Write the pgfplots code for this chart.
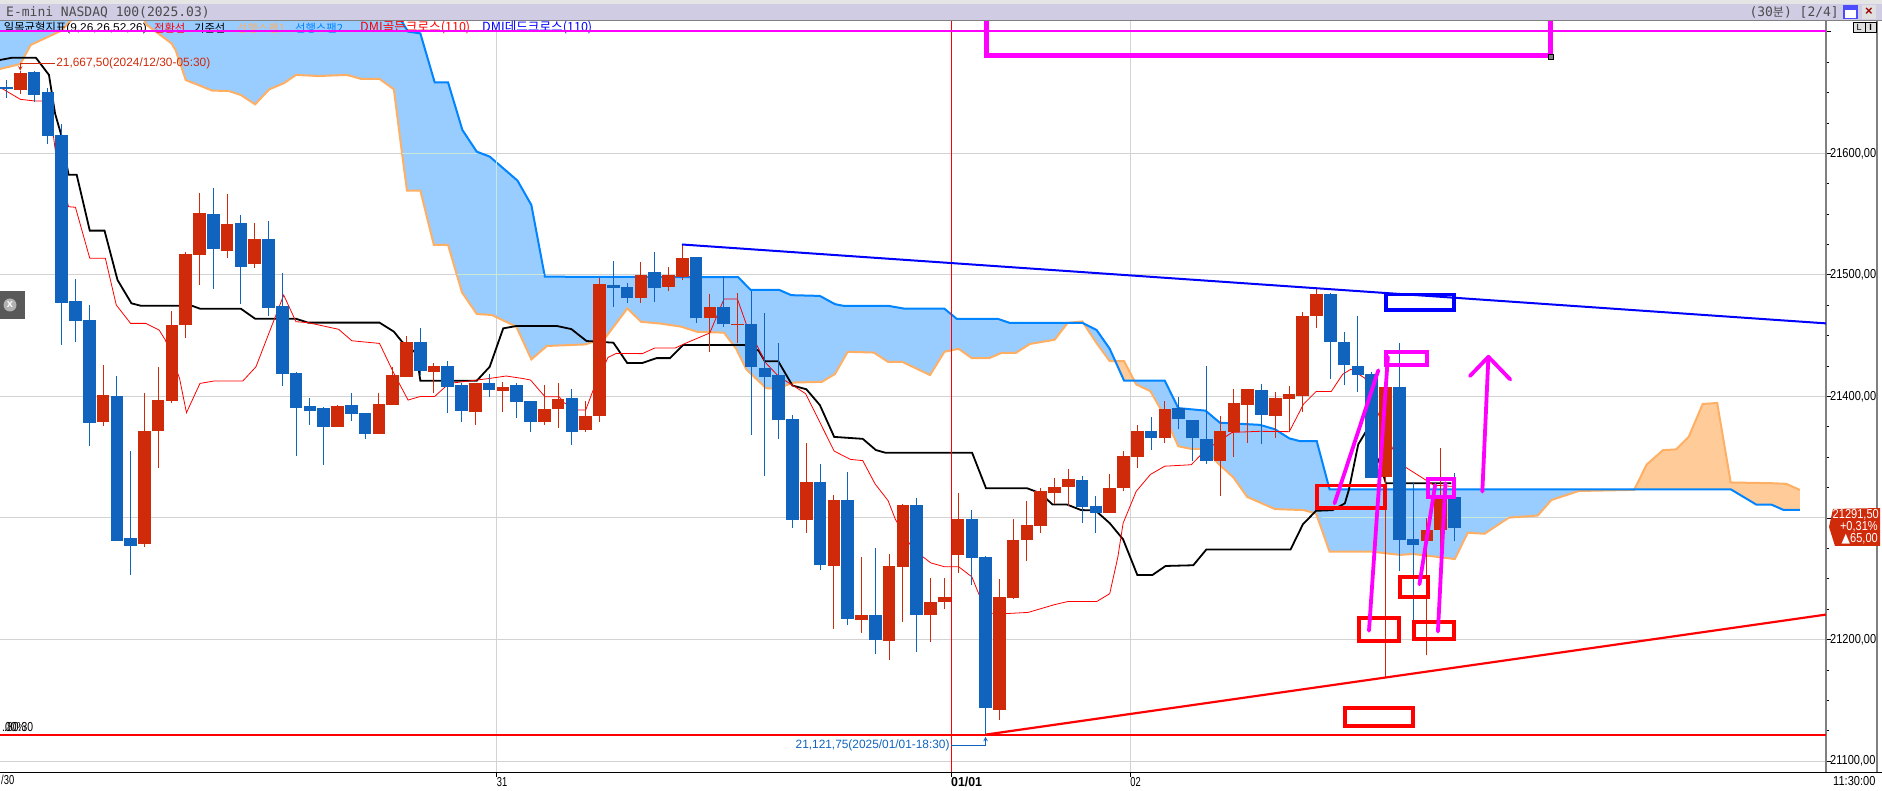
\documentclass[border=0pt]{standalone}
\usepackage{fontspec}
\usepackage{graphicx}
\usepackage{pgfplots}
\usepackage{pgfplotstable}
\pgfplotsset{compat=1.18}
\usepgfplotslibrary{fillbetween}
\setmainfont{Liberation Sans}
\newfontfamily\kofont{Noto Sans CJK KR}
\newfontfamily\symfont{DejaVu Sans}
\newfontfamily\titlefont{DejaVu Sans Mono}
\newcommand{\fs}[1]{\fontsize{#1}{#1}\selectfont}
\newcommand{\tn}[1]{\scalebox{.85}[1]{\fs{13}#1}}

\definecolor{candlered}{RGB}{207,42,10}
\definecolor{candleblue}{RGB}{16,100,190}
\definecolor{cloudblue}{RGB}{153,204,255}
\definecolor{cloudorange}{RGB}{255,204,153}
\definecolor{spanone}{RGB}{255,175,100}
\definecolor{spantwo}{RGB}{0,132,255}
\definecolor{gridgray}{RGB}{211,211,211}
\definecolor{gridcloud}{RGB}{200,232,216}
\definecolor{markup}{RGB}{255,0,255}
\definecolor{barlav}{RGB}{207,204,228}

% i = bar number, prices
\pgfplotstableread{
i hi lo top bot
1 21667.5 21648.8 21666.1 21652.4
7 21425.8 21375.9 21401.1 21379.2
10 21402.5 21276 21371.5 21278.5
11 21424.4 21341.3 21397 21371.5
12 21470.3 21394.8 21458.7 21396.5
13 21519 21448.3 21517.2 21458.7
14 21567 21491.6 21550.9 21516.3
16 21566.5 21514.1 21541.8 21519.9
18 21542.7 21505.9 21529.5 21508.9
24 21393 21375 21392.1 21375
27 21403 21369.3 21393.7 21369.3
28 21424.4 21393.2 21417.6 21393.2
29 21449.7 21416 21444.7 21416.2
31 21427.2 21403 21425 21420
34 21410.7 21376.7 21410.7 21387.4
36 21412 21387.4 21408 21404.7
39 21409.4 21376.7 21389.6 21379.2
40 21410.7 21373.7 21397.8 21389.9
42 21396.2 21371 21383.9 21372.3
43 21497.7 21379.2 21492.5 21384.1
46 21510.2 21476.9 21500.3 21480.9
48 21506.2 21486.4 21499.7 21489.8
49 21525 21495.7 21513.6 21498.5
51 21484 21436.7 21473.5 21464.2
53 21485.5 21443.8 21459.9 21459.3
58 21362 21288 21330 21298.2
60 21318.9 21208.7 21315.1 21260.5
62 21267.9 21205.3 21219.8 21216.1
64 21270.1 21183.4 21260.2 21198.8
65 21311.5 21214.2 21310.8 21259.6
67 21250.7 21198.2 21230.6 21220.1
68 21251 21224.7 21234.6 21230.6
69 21320.4 21254.7 21299.4 21269.5
72 21249.4 21133.7 21234.6 21142.3
73 21299.4 21233.4 21281.5 21234
74 21314.2 21264.2 21294.5 21282.1
75 21325 21288 21322.6 21293.2
76 21332.7 21311.1 21325.3 21320.4
77 21340.5 21309.6 21332.4 21325.3
80 21336.4 21304 21325 21304.3
81 21355 21321.9 21351.3 21325
82 21376.6 21341.4 21371.6 21350.3
84 21396.6 21362 21389.8 21365.4
88 21383.7 21318.2 21371.6 21346.6
89 21405.9 21350.3 21394.8 21370.4
90 21406.2 21361.9 21405.7 21393
92 21404 21366 21398.5 21383.8
93 21408.2 21371 21401.6 21398
94 21469.5 21386.9 21466.4 21400.2
95 21489.5 21456.2 21484.5 21466.4
100 21408 21168.4 21407.4 21333.6
103 21300 21187.2 21289.8 21280.7
104 21357.5 21273.2 21316.2 21290.4
}\upcandles

\pgfplotstableread{
i hi lo top bot
0 21660.3 21645.8 21654.6 21653
2 21667.4 21642.5 21666.7 21648.3
3 21654 21607.7 21650.5 21614.5
4 21624 21442.6 21615.1 21477.1
5 21496.3 21445 21478.5 21462.3
6 21475.2 21359.4 21462.8 21378.4
8 21416.8 21281 21400.3 21281.3
9 21355 21253.3 21283.5 21277.2
15 21571.2 21488.4 21550.1 21521.3
17 21549.3 21476 21542.7 21506.7
19 21544.3 21466.4 21529.5 21473
20 21501.3 21408.8 21474.4 21418.7
21 21420 21351.2 21419.2 21390.7
22 21398.4 21376.7 21392.1 21388.2
23 21391 21343.5 21390.4 21375
25 21403 21379.7 21392.9 21385.8
26 21386.6 21365.2 21386.3 21369.3
30 21456 21418 21444.7 21421.2
32 21429.1 21386 21425 21408
33 21411 21379.2 21409.4 21388.2
35 21418.4 21399.8 21410.7 21405.2
37 21411 21382.5 21409.4 21395.6
38 21396.5 21370.7 21396.2 21379.2
41 21406 21360.3 21398.7 21371
44 21511.4 21473.8 21491.7 21489.5
45 21493 21477.1 21489.8 21480.9
47 21519.1 21477.8 21502.2 21488.9
50 21514.8 21460.5 21514.5 21464.2
52 21499.4 21457.1 21473.5 21459.3
54 21487 21368.2 21459.3 21424.4
55 21468.5 21334.3 21423.5 21416
56 21443.8 21365.1 21417.6 21380.3
57 21384.6 21291.7 21381.5 21298.2
59 21344.5 21257.1 21330 21261.1
61 21338 21211.8 21315.1 21217
63 21275.6 21188.3 21219.8 21199.4
66 21316.7 21189.9 21310.8 21220.1
70 21306.5 21244.8 21299.4 21267
71 21268.5 21121.75 21268.2 21143.3
78 21334.3 21295.7 21331.5 21308.7
79 21318.2 21288 21310.2 21304.3
83 21383 21356.2 21371.6 21365.4
85 21399.7 21372.9 21390.4 21381.5
86 21381 21346.6 21380.6 21365.8
87 21425 21344.2 21365.1 21347.2
91 21410.4 21360.5 21404.9 21384.6
96 21485 21414.6 21484.5 21445.1
97 21452.6 21409 21445.1 21425.7
98 21466.4 21404 21425.1 21417.4
99 21420.1 21332.5 21418.2 21332.8
101 21444.3 21256 21407.4 21282
102 21330 21216.3 21282.9 21277.9
105 21337 21280.7 21317.3 21291.5
}\downcandles

\begin{document}
\begin{tikzpicture}[x=1pt,y=1pt]

\begin{axis}[
    at={(0pt,18pt)}, anchor=south west,
    scale only axis,
    width=1826pt, height=752pt,
    xmin=-0.471, xmax=131.94,
    ymin=21091, ymax=21709.7,
    axis y line*=right,
    axis x line*=bottom,
    axis line style={-},
    y axis line style={draw=gray, line width=1.5pt},
    x axis line style={draw=black, line width=1pt},
    tick align=outside,
    major tick length=5pt,
    minor tick length=3pt,
    tick style={black, line width=.8pt},
    grid=major,
    major grid style={gridgray, line width=1pt},
    xtick={35.55,68.49,81.49},
    xticklabels={\scalebox{.72}[1]{\fs{13}31},\scalebox{.95}[1]{\fs{13}\bfseries 01/01},\scalebox{.72}[1]{\fs{13}02}},
    x tick label style={anchor=north west, inner xsep=0pt, inner ysep=1pt, yshift=1pt},
    ytick={21100,21200,21300,21400,21500,21600,21700},
    yticklabels={\tn{21100,00},\tn{21200,00},,\tn{21400,00},\tn{21500,00},\tn{21600,00},},
    minor y tick num=3,
    y tick label style={anchor=west, inner xsep=0pt, xshift=-1pt},
]

% where the orange span runs above the blue one
\addplot[fill=cloudorange, draw=none] coordinates {(80.4,21429)(81.04,21429)(81.78,21413)(81.04,21413)} -- cycle;
\addplot[fill=cloudorange, draw=none] coordinates {(118.03,21323.1)(118.93,21343.9)(120.12,21355.8)(121.07,21356.4)(121.99,21366.9)(123,21393.8)(124.05,21394.6)(125.03,21329.2)(128,21328.6)(129.05,21328.1)(130.04,21323.1)(130.04,21306.7)(128.84,21306.7)(128,21310.9)(126.9,21310.9)(125.03,21323.6)(118.03,21323.6)} -- cycle;

% cloud
\addplot[name path=spanA, spanone, line width=2pt] table {
i p
-0.47 21669.4
1.01 21673.5
1.75 21689.1
2.78 21694.6
3.97 21700.9
4.71 21709.7
5.5 21745
9 21745
10.04 21708.3
10.18 21705.6
11.96 21690.5
12.26 21685
13 21660.3
14.92 21651.6
16.1 21651.3
16.99 21648
18.03 21640.3
19.06 21652.7
20.1 21657.6
20.99 21664.5
22.61 21663.6
24.69 21664.5
25.72 21661.2
27.05 21661.2
28.09 21652.7
28.68 21600
29.04 21569.3
30.01 21569.3
30.99 21524.6
32.02 21524.6
33.03 21485.6
34.1 21467.8
35.19 21467
36.97 21457.4
38.06 21430.5
39.19 21441.5
42 21442.8
43.48 21449.1
45.02 21472.4
46.02 21461.4
47.44 21459.9
48.92 21457.4
50.1 21453.1
52.03 21452.5
52.91 21439.2
53.65 21422.2
55.08 21406.8
55.88 21406.2
57.06 21411.4
59.13 21412
60.08 21418.5
61 21436.7
62.89 21436.1
63.93 21428.4
64.96 21428.4
66.97 21417.6
68.01 21436.7
69.04 21439.2
70 21431.5
71.26 21431.5
72.15 21435.8
73.19 21435.8
74.22 21443.2
76 21446.6
76.95 21460.5
78.01 21461.7
79.05 21443.8
80 21429
81.04 21429
81.92 21409.9
82.95 21404.3
83.99 21383.7
84.97 21359
85.91 21356.8
86.95 21356.8
87.84 21345.1
88.96 21333.4
89.97 21317.3
91.98 21307.3
94.06 21306.5
94.96 21303.7
95.94 21272.3
98.98 21272.3
101.07 21269.6
101.96 21270.4
104.04 21267.6
105.02 21266.2
105.97 21287.9
107.17 21287
108.95 21300.3
111.04 21302
112.03 21314.8
114.02 21322.2
118.03 21323.1
118.93 21343.9
120.12 21355.8
121.07 21356.4
121.99 21366.9
123 21393.8
124.05 21394.6
125.03 21329.2
128 21328.6
129.05 21328.1
130.04 21323.1
};
\addplot[name path=spanB, spantwo, line width=2pt] table {
i p
-0.47 21760
28.09 21730
28.68 21708.3
29.12 21700.1
30.01 21698.7
31.05 21658.4
32.02 21658.4
33.06 21619.2
34.1 21601.4
35.04 21597.3
37.06 21577.5
38.06 21557.5
39.04 21498.5
53.06 21498.1
53.95 21487.7
56.02 21487.7
56.91 21483.3
58.98 21482.7
60.08 21475.9
60.76 21474.4
64.01 21474.4
65.11 21472.2
68.01 21472.2
68.9 21463.9
71.86 21463.9
72.75 21460.5
78.01 21460.5
79.05 21454.6
80 21439.2
81.04 21413
83.99 21413
84.97 21390.4
86.95 21388.3
87.98 21378.4
90.89 21376.6
91.98 21373
93.02 21365.5
93.77 21363.3
95.01 21363.3
95.94 21323.6
125.03 21323.6
126.9 21310.9
128 21310.9
128.84 21306.7
130.04 21306.7
};
\addplot[cloudblue] fill between[of=spanA and spanB];

% grid shows faintly through the cloud
\addplot[gridcloud, line width=1pt] coordinates {(28.68,21600)(34.1,21600)};
\addplot[gridcloud, line width=1pt] coordinates {(32.7,21500)(39,21500)};
\addplot[gridcloud, line width=1pt] coordinates {(95.4,21300)(108.9,21300)};
\addplot[gridcloud, line width=1pt] coordinates {(35.55,21597)(35.55,21467)};

% base line
\addplot[black, line width=1.8pt] table {
i p
-0.47 21676.8
0.42 21678.7
2.13 21678.7
3.08 21664.5
3.52 21632.9
3.97 21615.1
4.5 21582.4
5.09 21582.4
6.04 21536.4
7.11 21536.4
8.05 21495.8
9.06 21476.6
9.74 21474.6
13.44 21474.6
14.03 21472.2
16.99 21472.2
18.03 21463.9
20.99 21463.9
21.87 21460.7
27.05 21460.7
28.09 21453.3
28.68 21445
29.72 21435.4
30.01 21412.9
34.1 21412.9
35.04 21424.4
36.02 21456
36.97 21457.9
39.93 21457.9
40.96 21455.4
42.06 21445.6
44.01 21444.2
45.01 21427.5
46.1 21427.5
47.14 21431.5
48.12 21431.5
49.07 21442.3
53.51 21442.3
54.54 21437.7
54.99 21429
55.96 21429
56.99 21409
58 21405.9
58.98 21392.9
60.02 21366.7
62.09 21365.1
63.04 21355.9
63.72 21353.7
70.02 21353.7
71.03 21324.4
74.02 21324.4
74.96 21320.4
75.85 21311.1
76.89 21311.1
77.92 21306.5
78.96 21306.2
80 21295.7
80.97 21282.4
82 21253.1
83.1 21253.1
84.05 21260.5
86.06 21261.1
87.01 21274.1
93.11 21274
94.01 21294.8
94.96 21305.9
96.15 21306.4
97.05 21312
97.34 21323.1
98.02 21360.5
98.53 21370.2
99.57 21345.3
100.02 21328.6
104.78 21328.6
};

% conversion line
\addplot[red, line width=.8pt] table {
i p
-0.47 21654.3
1.01 21644.4
2.04 21643.1
3.08 21643.1
3.58 21598.6
4.5 21556.1
5 21555.6
6.04 21513.6
7.17 21513.6
7.96 21475.2
9 21460.1
10.09 21460.1
11.07 21454.6
11.52 21446.4
12.55 21414.8
13.05 21386.6
14.03 21410.7
15.07 21412.7
17.14 21412.7
18.09 21424.4
20.1 21483.4
20.99 21461.5
21.87 21460.7
24.09 21455.2
25.04 21445.8
27.05 21443.6
28.09 21419
29.12 21397
30.01 21400
31.05 21400
32.09 21410.7
35.04 21414.8
36.23 21416.8
37.41 21414.8
38 21413.5
39.04 21399.8
40.07 21399.8
40.43 21394.8
41.46 21388.8
42 21388.8
42.59 21406.6
43.62 21432.1
44.22 21435.4
46.11 21435.2
47 21439.8
48.49 21439.8
49.07 21442.9
51 21452.2
52.03 21480.2
53 21480.2
53.65 21459.3
54.54 21439.2
54.99 21428.4
56.02 21416.1
56.91 21409.9
57.95 21402.2
60.02 21355
61.2 21348.2
62.09 21347.2
62.98 21328.1
63.93 21314.2
64.46 21298.8
65.49 21278.7
66.47 21267.9
67.03 21263
68.01 21259.9
69.04 21259.9
70 21251.6
70.52 21237.1
71.41 21221.6
72.45 21221.3
74.08 21222.3
76 21228.7
76.95 21231.2
79.05 21231.2
80 21237.7
80.59 21267.9
80.97 21295.7
81.92 21321.9
82.95 21335.8
83.99 21342.6
85.91 21343.8
86.95 21355.9
87.98 21363.6
88.87 21370.4
90.89 21371.3
93.02 21371
94.06 21393.8
94.96 21404
96.06 21404
96.89 21418.2
97.49 21422.4
98.5 21415
100 21370
101 21345
103.5 21327
104.8 21326
};

% wicks and bodies
\addplot[draw=none, mark=none, forget plot, error bars/.cd, y dir=plus, y explicit, error mark=none,
    error bar style={draw=candlered, line width=1pt}]
    table[x=i, y=lo, y error plus expr=\thisrow{hi}-\thisrow{lo}] {\upcandles};
\addplot[draw=none, mark=none, forget plot, error bars/.cd, y dir=plus, y explicit, error mark=none,
    error bar style={draw=candlered, line width=12.6pt}]
    table[x=i, y=bot, y error plus expr=\thisrow{top}-\thisrow{bot}] {\upcandles};
\addplot[draw=none, mark=none, forget plot, error bars/.cd, y dir=plus, y explicit, error mark=none,
    error bar style={draw=candleblue, line width=1pt}]
    table[x=i, y=lo, y error plus expr=\thisrow{hi}-\thisrow{lo}] {\downcandles};
\addplot[draw=none, mark=none, forget plot, error bars/.cd, y dir=plus, y explicit, error mark=none,
    error bar style={draw=candleblue, line width=12.6pt}]
    table[x=i, y=bot, y error plus expr=\thisrow{top}-\thisrow{bot}] {\downcandles};

% session marker, levels and trend lines
\addplot[red, line width=.9pt] coordinates {(68.49,21091)(68.49,21709.7)};
\addplot[red, line width=2pt] coordinates {(-0.471,21121.75)(131.94,21121.75)};
\addplot[markup, line width=2pt] coordinates {(-0.471,21700.9)(131.94,21700.9)};
\addplot[blue, line width=2pt] coordinates {(48.98,21525)(131.94,21460.1)};
\addplot[red, line width=2.2pt] coordinates {(71,21121.75)(131.94,21220.5)};

% high and low callouts
\addplot[candlered, line width=1pt, stealth-] coordinates {(1,21668)(1,21674)(3.5,21674)};
\addplot[candleblue, line width=1pt, stealth-] coordinates {(71,21120)(71,21112.4)(68.5,21112.4)};
\node[candlered, anchor=west, inner sep=0pt] at (axis cs:3.6,21674) {\scalebox{.99}[1]{\fs{12}21,667,50(2024/12/30-05:30)}};
\node[candleblue, anchor=east, inner sep=0pt] at (axis cs:68.4,21113) {\scalebox{.99}[1]{\fs{12}21,121,75(2025/01/01-18:30)}};

% hand drawn boxes
\addplot[markup, line width=5pt] coordinates {(71.07,21730)(71.07,21680.5)(111.96,21680.5)(111.96,21730)};
\addplot[only marks, mark=square*, mark size=2.5pt, mark options={draw=black, fill=black!50}] coordinates {(112,21679.7)};
\addplot[blue, line width=3.8pt, line cap=rect] coordinates {(100.02,21483.9)(104.99,21483.9)(104.99,21470.9)(100.02,21470.9)(100.02,21483.9)};
\addplot[markup, line width=3.8pt, line cap=rect] coordinates {(100.02,21436.8)(103.02,21436.8)(103.02,21425.7)(100.02,21425.7)(100.02,21436.8)};
\addplot[red, line width=3.8pt, line cap=rect] coordinates {(95.01,21326.7)(99.96,21326.7)(99.96,21308.4)(95.01,21308.4)(95.01,21326.7)};
\addplot[red, line width=3.8pt, line cap=rect] coordinates {(101.03,21251.5)(103.05,21251.5)(103.05,21235.2)(101.03,21235.2)(101.03,21251.5)};
\addplot[red, line width=3.8pt, line cap=rect] coordinates {(98.05,21217.7)(100.97,21217.7)(100.97,21198.6)(98.05,21198.6)(98.05,21217.7)};
\addplot[red, line width=3.8pt, line cap=rect] coordinates {(102.04,21214.7)(104.99,21214.7)(104.99,21200.2)(102.04,21200.2)(102.04,21214.7)};
\addplot[red, line width=3.8pt, line cap=rect] coordinates {(97.04,21143.9)(102.01,21143.9)(102.01,21128.7)(97.04,21128.7)(97.04,21143.9)};
\addplot[markup, line width=3.8pt, line cap=round] coordinates {(96.3,21312)(99.48,21421.5)};
\addplot[markup, line width=3.8pt, line cap=round] coordinates {(98.8,21207.2)(100.17,21432.6)};
\addplot[markup, line width=3.8pt, line cap=rect] coordinates {(103.08,21332)(104.99,21332)(104.99,21317.5)(103.08,21317.5)(103.08,21332)};
\addplot[markup, line width=3.8pt, line cap=round] coordinates {(102.46,21245.4)(103.6,21327.2)};
\addplot[markup, line width=3.8pt, line cap=round] coordinates {(103.8,21206.6)(104.34,21328.6)};
\addplot[markup, line width=3.8pt, line cap=round] coordinates {(107.02,21321.7)(107.46,21432.6)};
\addplot[markup, line width=3.8pt, line cap=round, line join=round] coordinates {(106.12,21416.8)(107.46,21432.6)(109.04,21414)};
\end{axis}

% window chrome around the plot
\fill[black!10] (0,786) rectangle (1882,790);
\fill[barlav] (0,770) rectangle (1882,786);
\draw[gray, line width=1pt] (0,769.5) -- (1882,769.5);
\draw[black, line width=1pt] (1826,18) -- (1882,18);
\draw[gray, line width=1.5pt] (1877,18) -- (1877,770);
\node[anchor=west, inner sep=0pt, text=black!70] at (6,778) {\titlefont\fs{13}E-mini NASDAQ 100(2025.03)};
\node[anchor=east, inner sep=0pt, text=black!70] at (1839,778) {\titlefont\fs{13}(30{\kofont\fs{12}분}) [2/4]};
\draw[blue!70!white, fill=white, line width=1.4pt] (1844,771.5) rectangle (1857,784);
\fill[blue!70!white] (1844,780) rectangle (1857,784);
\fill[black!12] (1862,771) rectangle (1876,785);
\node[inner sep=0pt, text=red!60!black] at (1869,778) {\fs{13}\bfseries ×};
\draw[black, fill=black!12] (1853,758) rectangle (1865,768);
\draw[black, fill=black!12] (1865,758) rectangle (1876,768);
\node[inner sep=0pt] at (1859,763) {\fs{9}L};
\node[inner sep=0pt] at (1870.5,763) {\fs{9}\bfseries I};

% indicator legend row
\node[anchor=east, inner sep=0pt] at (147,762) {\fs{11.3}\kofont 일목균형지표{\rmfamily\scalebox{1.05}[1]{(9,26,26,52,26)}}};
\node[anchor=west, inner sep=0pt, text=red] at (154,762) {\fs{11.3}\kofont 전환선};
\node[anchor=west, inner sep=0pt] at (194,762) {\fs{11.3}\kofont 기준선};
\node[anchor=west, inner sep=0pt, text=spanone] at (237,762) {\fs{11.3}\kofont 선행스팬1};
\node[anchor=west, inner sep=0pt, text=spantwo] at (295,762) {\fs{11.3}\kofont 선행스팬2};
\node[anchor=west, inner sep=0pt, text=red] at (360,762) {\fs{12.6}\kofont DMI골든크로스(110)};
\node[anchor=west, inner sep=0pt, text=blue] at (482,762) {\fs{12.6}\kofont DMI데드크로스(110)};
\draw[markup, line width=2pt] (0,759.2) -- (640,759.2);

% dismiss button at the left edge
\fill[black!65] (0,471) rectangle (24.5,499);
\fill[black!30] (10,485) circle (6.5);
\node[inner sep=0pt, text=white] at (10,485) {\fs{11}\bfseries x};

% leftovers printed over each other at the edges
\node[anchor=west, inner sep=0pt] at (2,63) {\scalebox{.8}[1]{\fs{13}.00\%}};
\node[anchor=west, inner sep=0pt] at (4,63) {\scalebox{.8}[1]{\fs{13}.80:30}};
\node[anchor=north west, inner sep=0pt] at (1,15) {\scalebox{.72}[1]{\fs{13}/30}};
\node[anchor=west, inner sep=0pt] at (1833,9) {\scalebox{.85}[1]{\fs{13}11:30:00}};

% last price tag
\fill[candlered] (1829,263) -- (1833,281) -- (1880,282) -- (1880,244) -- (1835,244) -- cycle;
\node[inner sep=0pt, text=white, anchor=east] at (1879,275) {\tn{21291,50}};
\node[inner sep=0pt, text=white, anchor=east] at (1878,263) {\tn{+0,31\%}};
\node[inner sep=0pt, text=white, anchor=east] at (1878,251) {\tn{{\symfont ▲}65,00}};

\pgfresetboundingbox
\path[use as bounding box] (0,0) rectangle (1882,790);
\end{tikzpicture}
\end{document}
